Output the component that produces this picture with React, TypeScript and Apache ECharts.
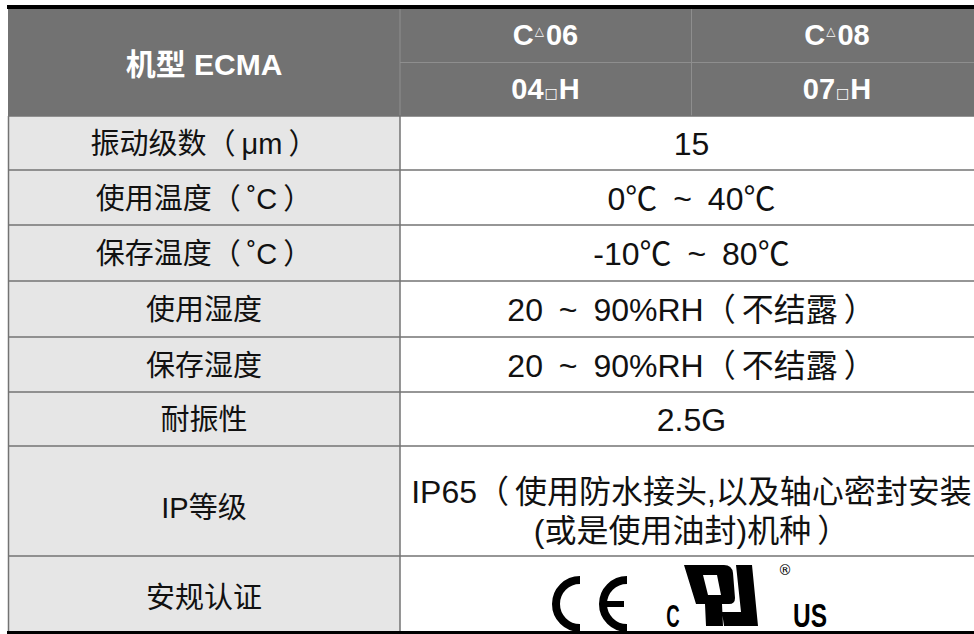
import { useEffect, useRef } from "react";
import * as echarts from "echarts";

// ---- table content ----
const headerTitle = "机型 ECMA";
const headerModelRow = ["C△06", "C△08"];
const headerCodeRow = ["04□H", "07□H"];
const rowLabels = [
  "振动级数（μm）",
  "使用温度（˚C）",
  "保存温度（˚C）",
  "使用湿度",
  "保存湿度",
  "耐振性",
  "IP等级",
  "安规认证",
];
const rowValues = [
  "15",
  "0℃ ~ 40℃",
  "-10℃ ~ 80℃",
  "20 ~ 90%RH（不结露）",
  "20 ~ 90%RH（不结露）",
  "2.5G",
  "IP65（使用防水接头,以及轴心密封安装\n(或是使用油封)机种）",
  "",
];
const certMarks = ["C", "US", "®"];

// ---- layout ----
const X_LEFT = 8;
const X_DIV = 400;
const X_COL = 691;
const X_RIGHT = 983;
const Y_HEAD_TOP = 9;
const Y_HEAD_MID = 62;
const Y_HEAD_BOTTOM = 116;
const rowHeights = [54, 55, 56, 56, 55, 54, 110, 75];
const labelShift = [1, 1, 1, 1, 1, 1, 7, 4];

const FONT = '"Liberation Sans", Arial, "Noto Sans CJK SC", sans-serif';
const LABEL_SIZE = 29;
const VALUE_SIZE = 32;
const HEAD_SIZE = 29;
const LINE = "#737373";
const HEAD_LINE = "#8e8e8e";

const UL_PATH =
  "M0 0 L40 0 Q48 0 49 8 L51 33 Q51 39 45 39 L38 39 L39 61 L22 61 L21 39 L12 39 Z " +
  "M19 10 L24 30 L37 30 L33 10 Z " +
  "M52 0 L68 0 L74 61 L40 61 L38 47 L57 47 Z";

let registered = false;
function registerShapes() {
  if (registered) return;
  echarts.graphic.registerShape("ulmark", echarts.graphic.extendPath(UL_PATH, {}) as any);
  registered = true;
}

function headRich(s: string) {
  return s
    .split(/([△□])/)
    .filter((p) => p.length > 0)
    .map((p) => (p === "△" ? `{t|${p}}` : p === "□" ? `{q|${p}}` : `{m|${p}}`))
    .join("");
}

function bodyRich(s: string) {
  return s
    .split(/([（）]| ~ )/)
    .filter((p) => p.length > 0)
    .map((p) =>
      p === "（" ? `{o|${p}}` : p === "）" ? `{c|${p}}` : p === " ~ " ? `{w|${p}}` : `{b|${p}}`
    )
    .join("");
}

function bodyStyles(size: number, lineHeight?: number) {
  const base: any = { fontFamily: FONT, fontSize: size, fill: "#111" };
  if (lineHeight) base.lineHeight = lineHeight;
  return {
    b: { ...base },
    o: { ...base, padding: [0, 6, 0, 0] },
    c: { ...base, padding: [0, 0, 0, 6] },
    w: { ...base, padding: [0, 7, 0, 7] },
  };
}

function txt(x: number, y: number, text: string, extra: any = {}, z = 10) {
  return {
    type: "text",
    x,
    y,
    z,
    style: {
      text,
      fontFamily: FONT,
      fontSize: LABEL_SIZE,
      fill: "#111",
      align: "center",
      verticalAlign: "middle",
      textAlign: "center",
      textVerticalAlign: "middle",
      ...extra,
    },
  };
}

function line(x1: number, y1: number, x2: number, y2: number, stroke: string, w: number, z = 5) {
  return { type: "line", z, shape: { x1, y1, x2, y2 }, style: { stroke, lineWidth: w } };
}

function buildGraphics() {
  const els: any[] = [];
  els.push({
    type: "rect",
    z: 1,
    shape: { x: X_LEFT, y: Y_HEAD_TOP, width: X_RIGHT - X_LEFT, height: Y_HEAD_BOTTOM - Y_HEAD_TOP },
    style: { fill: "#727272" },
  });
  els.push(line(X_DIV, Y_HEAD_TOP, X_DIV, Y_HEAD_BOTTOM, HEAD_LINE, 1));
  els.push(line(X_COL + 0.5, Y_HEAD_TOP, X_COL + 0.5, Y_HEAD_BOTTOM, HEAD_LINE, 1));
  els.push(line(X_DIV, Y_HEAD_MID + 0.5, X_RIGHT, Y_HEAD_MID + 0.5, HEAD_LINE, 1));

  const rich = {
    m: { fontFamily: FONT, fontSize: HEAD_SIZE, fontWeight: "bold", fill: "#fff" },
    t: { fontFamily: '"DejaVu Sans", sans-serif', fontSize: 12, fill: "#fff", padding: [0, 2, 8, 1] },
    q: { fontFamily: '"DejaVu Sans", sans-serif', fontSize: 14, fill: "#fff", padding: [7, 1, 0, 1] },
  };
  els.push(
    txt((X_LEFT + X_DIV) / 2, (Y_HEAD_TOP + Y_HEAD_BOTTOM) / 2 + 2, headerTitle, {
      fill: "#fff",
      fontWeight: "bold",
      fontSize: 30,
    })
  );
  const colCenters = [(X_DIV + X_COL) / 2, (X_COL + X_RIGHT) / 2];
  headerModelRow.forEach((s, i) => {
    els.push(txt(colCenters[i], (Y_HEAD_TOP + Y_HEAD_MID) / 2 - 1, headRich(s), { rich, fill: "#fff" }));
  });
  headerCodeRow.forEach((s, i) => {
    els.push(txt(colCenters[i], (Y_HEAD_MID + Y_HEAD_BOTTOM) / 2, headRich(s), { rich, fill: "#fff" }));
  });

  let yTop = Y_HEAD_BOTTOM;
  const yEnd = Y_HEAD_BOTTOM + rowHeights.reduce((a, b) => a + b, 0);
  els.push({
    type: "rect",
    z: 1,
    shape: { x: X_LEFT, y: Y_HEAD_BOTTOM, width: X_DIV - X_LEFT, height: yEnd - Y_HEAD_BOTTOM },
    style: { fill: "#e6e6e6" },
  });
  els.push(line(X_LEFT, Y_HEAD_BOTTOM, X_RIGHT, Y_HEAD_BOTTOM, LINE, 1.5));
  els.push(line(X_DIV, Y_HEAD_BOTTOM, X_DIV, yEnd, LINE, 1.5));
  els.push(line(X_LEFT + 0.5, Y_HEAD_BOTTOM, X_LEFT + 0.5, yEnd, LINE, 1.5));

  rowHeights.forEach((h, i) => {
    const yc = yTop + h / 2;
    els.push(
      txt((X_LEFT + X_DIV) / 2, yc + labelShift[i], bodyRich(rowLabels[i]), { rich: bodyStyles(LABEL_SIZE) })
    );
    if (rowValues[i]) {
      const multi = rowValues[i].includes("\n");
      const lines = rowValues[i].split("\n").map(bodyRich).join("\n");
      els.push(
        txt((X_DIV + X_RIGHT) / 2, yc + (multi ? 10 : 1), lines, {
          fontSize: VALUE_SIZE,
          rich: bodyStyles(VALUE_SIZE, multi ? 39 : undefined),
        })
      );
    }
    yTop += h;
    if (i < rowHeights.length - 1) els.push(line(X_LEFT, yTop, X_RIGHT, yTop, LINE, 1.5));
  });

  // certification marks (last row)
  const lastTop = yEnd - rowHeights[rowHeights.length - 1];
  const cy = lastTop + 48;
  const ceCenters = [580, 627];
  ceCenters.forEach((cx) => {
    els.push({
      type: "arc",
      z: 8,
      shape: { cx, cy, r: 24, startAngle: Math.PI * 0.5, endAngle: Math.PI * 1.5, clockwise: true },
      style: { stroke: "#000", lineWidth: 8, fill: "none" },
    });
  });
  els.push({
    type: "rect",
    z: 8,
    shape: { x: ceCenters[1] - 26, y: cy - 3, width: 23, height: 6 },
    style: { fill: "#000" },
  });
  els.push({ type: "ulmark", z: 8, x: 684, y: lastTop + 9, style: { fill: "#000" } });
  els.push({
    type: "text",
    z: 8,
    x: 673,
    y: lastTop + 60,
    scaleX: 0.6,
    style: { text: certMarks[0], fontFamily: FONT, fontSize: 31, fontWeight: "bold", fill: "#000", align: "center", verticalAlign: "middle" },
  });
  els.push({
    type: "text",
    z: 8,
    x: 810,
    y: lastTop + 59,
    scaleX: 0.72,
    style: { text: certMarks[1], fontFamily: FONT, fontSize: 34, fontWeight: "bold", fill: "#000", align: "center", verticalAlign: "middle" },
  });
  els.push({
    type: "text",
    z: 8,
    x: 785,
    y: lastTop + 14,
    style: { text: certMarks[2], fontFamily: '"DejaVu Sans", sans-serif', fontSize: 14, fill: "#000", align: "center", verticalAlign: "middle" },
  });

  // black top and bottom rules
  els.push({ type: "rect", z: 20, shape: { x: 7, y: 5, width: 980, height: 4 }, style: { fill: "#000" } });
  els.push({ type: "rect", z: 20, shape: { x: 7, y: yEnd, width: 980, height: 10 }, style: { fill: "#000" } });
  return els;
}

export default function App() {
  const ref = useRef<HTMLDivElement>(null);
  useEffect(() => {
    if (!ref.current) return;
    registerShapes();
    const chart = echarts.init(ref.current, null, { renderer: "svg" });
    chart.setOption({
      animation: false,
      backgroundColor: "#ffffff",
      graphic: { elements: buildGraphics() },
    });
    return () => chart.dispose();
  }, []);
  return (
    <div
      ref={ref}
      style={{ position: "fixed", left: 0, top: 0, width: 974, height: 634, background: "#fff" }}
    />
  );
}
